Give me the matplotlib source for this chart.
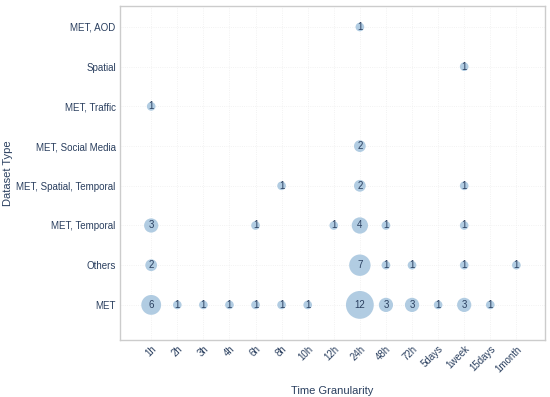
import matplotlib.pyplot as plt

plt.rcParams['font.family'] = ['Liberation Sans', 'DejaVu Sans']

granularity = ["1h", "2h", "3h", "4h", "6h", "8h", "10h", "12h", "24h",
               "48h", "72h", "5days", "1week", "15days", "1month"]
dataset_types = ["MET", "Others", "MET, Temporal", "MET, Spatial, Temporal",
                 "MET, Social Media", "MET, Traffic", "Spatial", "MET, AOD"]

# (dataset type, granularity, count)
rows = [
    ("MET, AOD", "24h", 1),
    ("Spatial", "1week", 1),
    ("MET, Traffic", "1h", 1),
    ("MET, Social Media", "24h", 2),
    ("MET, Spatial, Temporal", "8h", 1),
    ("MET, Spatial, Temporal", "24h", 2),
    ("MET, Spatial, Temporal", "1week", 1),
    ("MET, Temporal", "1h", 3),
    ("MET, Temporal", "6h", 1),
    ("MET, Temporal", "12h", 1),
    ("MET, Temporal", "24h", 4),
    ("MET, Temporal", "48h", 1),
    ("MET, Temporal", "1week", 1),
    ("Others", "1h", 2),
    ("Others", "24h", 7),
    ("Others", "48h", 1),
    ("Others", "72h", 1),
    ("Others", "1week", 1),
    ("Others", "1month", 1),
    ("MET", "1h", 6),
    ("MET", "2h", 1),
    ("MET", "3h", 1),
    ("MET", "4h", 1),
    ("MET", "6h", 1),
    ("MET", "8h", 1),
    ("MET", "10h", 1),
    ("MET", "24h", 12),
    ("MET", "48h", 3),
    ("MET", "72h", 3),
    ("MET", "5days", 1),
    ("MET", "1week", 3),
    ("MET", "15days", 1),
]

txt = "#2a3f5f"

fig = plt.figure(figsize=(5.5, 3.97), dpi=100)
ax = fig.add_axes([0.218, 0.144, 0.773, 0.841])

xs = [granularity.index(r[1]) for r in rows]
ys = [dataset_types.index(r[0]) for r in rows]
cnt = [r[2] for r in rows]

ax.scatter(xs, ys, s=[c * 33 + 6 for c in cnt], color="#a9c7df", alpha=0.9,
           edgecolors="none", zorder=3)
for x, y, c in zip(xs, ys, cnt):
    ax.text(x, y, str(c), ha="center", va="center", fontsize=7, color=txt, zorder=4)

ax.set_xticks(range(len(granularity)))
ax.set_xticklabels(granularity, rotation=45, ha="right", rotation_mode="anchor",
                   fontsize=7, color=txt)
ax.set_yticks(range(len(dataset_types)))
ax.set_yticklabels(dataset_types, fontsize=7, color=txt)
ax.set_xlim(-1.2, 15.1)
ax.set_ylim(-0.88, 7.53)
ax.tick_params(length=0, pad=3)

ax.grid(True, color="#eeeeee", linewidth=0.6, linestyle=":")
ax.set_axisbelow(True)
for s in ax.spines.values():
    s.set_color("#cccccc")
    s.set_linewidth(1)

ax.set_xlabel("Time Granularity", fontsize=8, color=txt)
ax.xaxis.set_label_coords(0.5, -0.138)
ax.set_ylabel("Dataset Type", fontsize=8, color=txt)
ax.yaxis.set_label_coords(-0.252, 0.5)

fig.savefig("out.png", dpi=100)
